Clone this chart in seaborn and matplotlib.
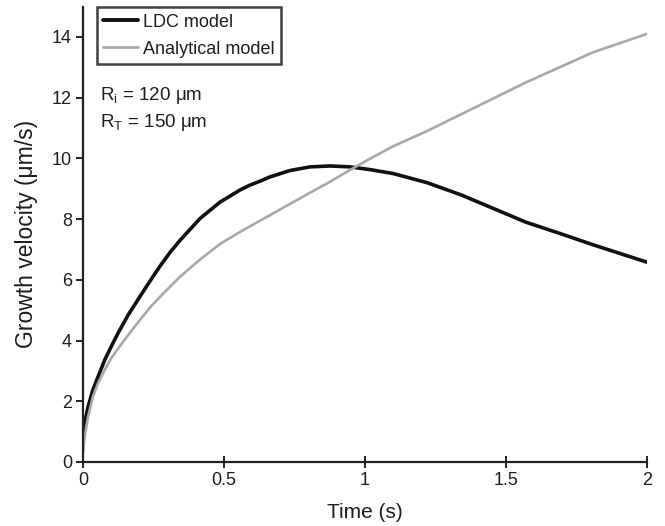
import matplotlib
matplotlib.use("Agg")
import matplotlib.pyplot as plt
from matplotlib.lines import Line2D
import seaborn as sns
import pandas as pd

# Data
time_ldc = [0.0, 0.006, 0.018, 0.035, 0.053, 0.077, 0.1, 0.124, 0.16, 0.202, 0.237,
            0.273, 0.31, 0.344, 0.415, 0.486, 0.557, 0.592, 0.628, 0.663, 0.734, 0.805,
            0.876, 0.947, 1.018, 1.10, 1.22, 1.34, 1.45, 1.57, 1.69, 1.81, 2.0]
vel_ldc = [0.83, 1.28, 1.82, 2.37, 2.8, 3.36, 3.8, 4.24, 4.84, 5.45, 5.95,
           6.45, 6.92, 7.3, 8.02, 8.56, 8.96, 9.12, 9.25, 9.39, 9.6, 9.72,
           9.75, 9.72, 9.63, 9.5, 9.2, 8.8, 8.37, 7.9, 7.53, 7.15, 6.58]

time_an = [0.0, 0.006, 0.018, 0.035, 0.053, 0.077, 0.1, 0.136, 0.17, 0.202, 0.237,
           0.273, 0.344, 0.415, 0.486, 0.557, 0.628, 0.663, 0.734, 0.805, 0.876,
           0.947, 1.018, 1.10, 1.22, 1.34, 1.45, 1.57, 1.69, 1.81, 2.0]
vel_an = [0.3, 0.85, 1.49, 2.15, 2.59, 3.03, 3.42, 3.88, 4.3, 4.68, 5.08,
          5.44, 6.1, 6.67, 7.18, 7.58, 7.95, 8.13, 8.5, 8.87, 9.23,
          9.62, 9.99, 10.4, 10.9, 11.45, 11.95, 12.5, 13.0, 13.5, 14.1]

series_names = ["LDC model", "Analytical model"]
x_ticks = [0, 0.5, 1, 1.5, 2]
x_ticklabels = ["0", "0.5", "1", "1.5", "2"]
y_ticks = [0, 2, 4, 6, 8, 10, 12, 14]

df = pd.concat([
    pd.DataFrame({"t": time_ldc, "v": vel_ldc, "model": series_names[0]}),
    pd.DataFrame({"t": time_an, "v": vel_an, "model": series_names[1]}),
])

sns.set_style("white")
plt.rcParams["font.family"] = ["Liberation Sans", "DejaVu Sans"]
plt.rcParams["mathtext.fontset"] = "custom"
plt.rcParams["mathtext.rm"] = "Liberation Sans"

TXT = "#1e1e1e"

fig = plt.figure(figsize=(6.65, 5.26), dpi=100)
ax = fig.add_axes([0.1248, 0.1217, 0.8482, 0.8658])

palette = {series_names[0]: "#111111", series_names[1]: "#a8a8a8"}
sns.lineplot(data=df, x="t", y="v", hue="model", palette=palette, ax=ax,
             sort=False, estimator=None, legend=False)
ax.lines[0].set_linewidth(2.6)
ax.lines[1].set_linewidth(1.9)
for ln in ax.lines:
    ln.set_solid_joinstyle("round")
    ln.set_solid_capstyle("round")

ax.set_xlim(0, 2)
ax.set_ylim(0, 15)
ax.set_xticks(x_ticks)
ax.set_xticklabels(x_ticklabels)
ax.set_yticks(y_ticks)

for s in ["top", "right"]:
    ax.spines[s].set_visible(False)
for s in ["left", "bottom"]:
    ax.spines[s].set_color("#222222")
    ax.spines[s].set_linewidth(1.6)

ax.tick_params(axis="y", direction="out", length=5, width=1.4, color="#222222",
               labelsize=13, labelcolor=TXT, pad=3, left=True)
ax.tick_params(axis="x", direction="inout", length=8, width=1.4, color="#222222",
               labelsize=13, labelcolor=TXT, pad=3, bottom=True)

ax.set_xlabel("Time (s)", fontsize=15, color=TXT, labelpad=10)
ax.set_ylabel("Growth velocity (μm/s)", fontsize=16.5, color=TXT, labelpad=10)

handles = [Line2D([], [], color="#111111", lw=2.8),
           Line2D([], [], color="#a8a8a8", lw=2.0)]
leg = ax.legend(handles, series_names, loc="upper left",
                bbox_to_anchor=(0.025, 0.998), frameon=True, fancybox=False,
                fontsize=13, handlelength=1.9, handletextpad=0.3,
                borderpad=0.35, labelspacing=0.55, borderaxespad=0.0)
leg.get_frame().set_edgecolor("#111111")
leg.get_frame().set_linewidth(1.8)
for t in leg.get_texts():
    t.set_color(TXT)

ax.text(0.030, 0.804, r"R$_\mathregular{i}$ = 120 μm", transform=ax.transAxes,
        fontsize=13.5, color=TXT, va="center", ha="left")
ax.text(0.030, 0.745, r"R$_\mathregular{T}$ = 150 μm", transform=ax.transAxes,
        fontsize=13.5, color=TXT, va="center", ha="left")

fig.savefig("out.png", dpi=100)
